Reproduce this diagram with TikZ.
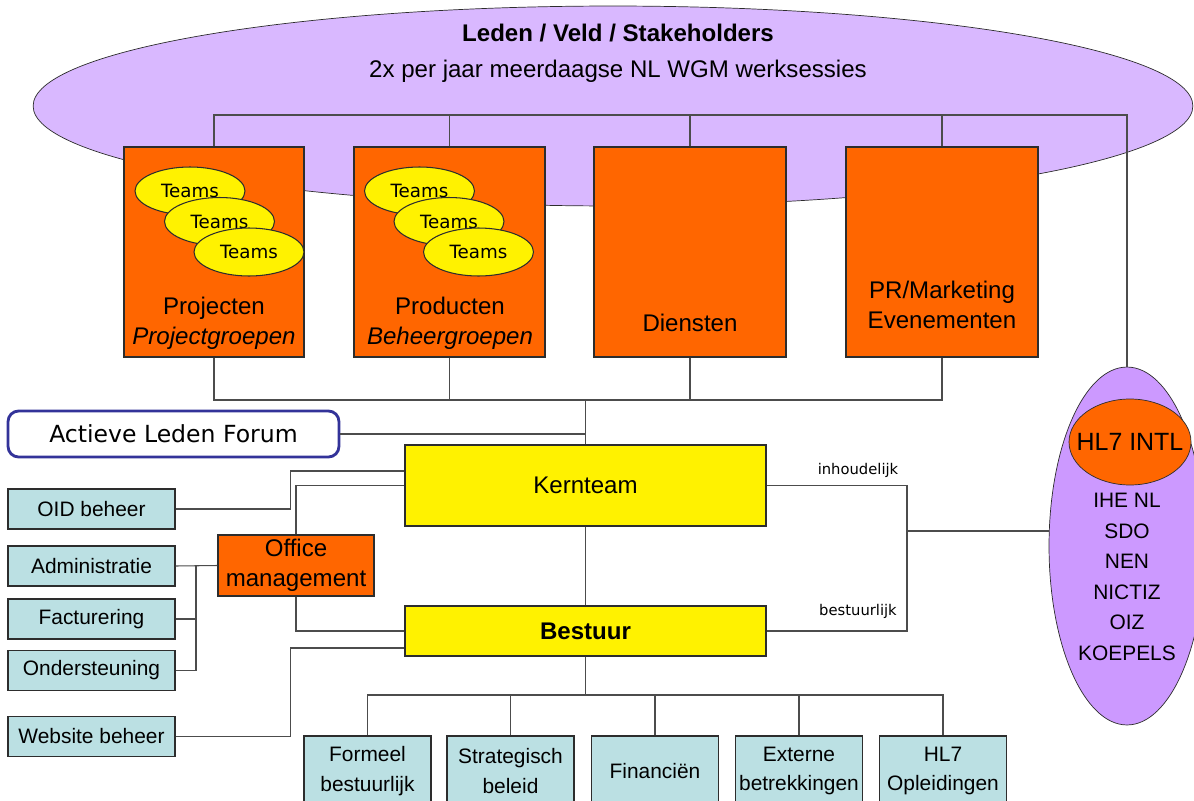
\documentclass[tikz,border=0pt]{standalone}
\usepackage{fontspec}
\setmainfont{Liberation Sans}
\newfontfamily\forumfont{DejaVu Sans}
\usetikzlibrary{shapes.geometric, positioning}
\definecolor{lavender}{RGB}{217,184,255}
\definecolor{hlpurple}{RGB}{204,153,255}
\definecolor{hlorange}{RGB}{255,102,0}
\definecolor{paleblue}{RGB}{187,224,227}
\definecolor{forumblue}{RGB}{51,51,153}
\definecolor{edge}{RGB}{45,45,45}

\tikzset{
  orangebox/.style={draw=edge, line width=0.8pt, fill=hlorange, inner sep=0pt},
  yellowbox/.style={draw=edge, line width=0.8pt, fill=yellow, minimum width=7.22cm},
  bluebox/.style={draw=edge, line width=0.8pt, fill=paleblue, align=center, inner sep=0pt, font=\fontsize{11.9}{17}\selectfont},
  teams/.style={ellipse, draw=edge, fill=yellow, line width=0.6pt, minimum width=2.2cm, minimum height=0.96cm, inner sep=0pt, font=\forumfont\fontsize{10.4}{12}\selectfont},
  conn/.style={draw=edge!85, line width=0.6pt},
  boxtext/.style={align=center, font=\fontsize{13.7}{17}\selectfont},
  smalllbl/.style={font=\forumfont\fontsize{8.4}{10}\selectfont}
}

\begin{document}
\begin{tikzpicture}[x=0.02cm, y=-0.02cm]
\useasboundingbox (0,0) rectangle (1194,801);

% leden / veld
\node[ellipse, draw=edge, fill=lavender, minimum width=23.2cm, minimum height=4cm] (leden) at (613,106) {};
\node[boxtext, font=\fontsize{13.7}{20.5}\selectfont] (ledentxt) at (618,53) {\textbf{Leden / Veld / Stakeholders}\\2x per jaar meerdaagse NL WGM werksessies};

% werkvelden
\node[orangebox, minimum width=3.6cm, minimum height=4.2cm] (proj) at (214,252) {};
\node[orangebox, minimum width=3.82cm, minimum height=4.2cm] (prod) at (449.5,252) {};
\node[orangebox, minimum width=3.84cm, minimum height=4.2cm] (dien) at (690,252) {};
\node[orangebox, minimum width=3.84cm, minimum height=4.2cm] (pr) at (942,252) {};
\foreach \bx/\nm in {190/pt, 419.5/bt}
  \foreach \i in {0,1,2}
    \node[teams] (\nm\i) at (\bx+29.5*\i, 191+30.5*\i) {Teams};
\node[boxtext] (projtxt) at (214,323) {Projecten\\\textit{Projectgroepen}};
\node[boxtext] (prodtxt) at (450,323) {Producten\\\textit{Beheergroepen}};
\node[boxtext] (dientxt) at (690,323) {Diensten};
\node[boxtext] (prtxt) at (942,305) {PR/Marketing\\Evenementen};

% kern
\node[draw=forumblue, line width=1.6pt, rounded corners=6pt, fill=white, minimum width=6.62cm, minimum height=0.92cm, font=\forumfont\fontsize{13.4}{16}\selectfont] (forum) at (173.5,434) {Actieve Leden Forum};
\node[yellowbox, minimum height=1.62cm, font=\fontsize{13.7}{17}\selectfont] (kern) at (585.5,485.5) {Kernteam};
\node[yellowbox, minimum height=1cm, font=\bfseries\fontsize{13.7}{17}\selectfont] (best) at (585.5,631) {Bestuur};
\node[orangebox, align=center, minimum width=3.12cm, minimum height=1.22cm, font=\fontsize{13.7}{17}\selectfont] (office) at (296,565.5) {Office\\management};

% ondersteuning links
\foreach \nm/\yy/\txt in {oid/509/OID beheer, admin/566/Administratie, fact/619/Facturering, ond/670.5/Ondersteuning, web/736.5/Website beheer}
  \node[bluebox, minimum width=3.34cm, minimum height=0.8cm] (\nm) at (91.5,\yy) {\txt};

% portefeuilles bestuur
\foreach \nm/\xx/\txt in {form/367.5/{Formeel\\bestuurlijk}, strat/510.5/{Strategisch\\beleid}, fin/655/{Financi\"en}, ext/799/{Externe\\betrekkingen}, opl/943/{HL7\\Opleidingen}}
  \node[bluebox, minimum width=2.54cm, minimum height=1.4cm] (\nm) at (\xx,771) {\txt};

% internationaal
\node[ellipse, draw=edge, fill=hlpurple, minimum width=3.12cm, minimum height=7.16cm] (hl7) at (1127,546) {};
\node[ellipse, draw=edge, fill=hlorange, minimum width=2.44cm, minimum height=1.72cm, inner xsep=-0.25cm, inner ysep=0pt, font=\fontsize{14.2}{17}\selectfont] (intl) at (1130,442) {HL7 INTL};
\node[align=center, font=\fontsize{11.9}{17.4}\selectfont] (orgs) at (1127,577) {IHE NL\\SDO\\NEN\\NICTIZ\\OIZ\\KOEPELS};

% lijnen
\coordinate (bustop) at (600,115);
\coordinate (busmid) at (585.5,400);
\coordinate (busbot) at (585.5,695);
\coordinate (lbus) at (196,566);
\coordinate (rbus) at (907,531);

\draw[conn] (proj.north) |- (bustop) -| (hl7.north);
\foreach \bx in {prod, dien, pr}
  \draw[conn] (\bx.north) -- (\bx.north |- bustop);
\draw[conn] (proj.south) |- (busmid) -| (pr.south);
\foreach \bx in {prod, dien}
  \draw[conn] (\bx.south) -- (\bx.south |- busmid);
\draw[conn] (busmid) -- (kern.north);
\draw[conn] (forum.east) -- (forum.east -| busmid);
\draw[conn] (kern.south) -- (best.north);
\draw[conn] (best.south) -- (busbot);
\draw[conn] (form.north) |- (busbot) -| (opl.north);
\foreach \bx in {strat, fin, ext}
  \draw[conn] (\bx.north) -- (\bx.north |- busbot);

\draw[conn] (oid.east) -- ++(115,0) |- ([yshift=0.29cm]kern.west);
\draw[conn] (office.north) |- (kern.west);
\draw[conn] (office.south) |- (best.west);
\draw[conn] (web.east) -- ++(115,0) |- ([yshift=-0.34cm]best.west);
\draw[conn] (admin.east) -- (office.west);
\draw[conn] (ond.east) -| (lbus);
\draw[conn] (fact.east) -- (fact.east -| lbus);

\draw[conn] (kern.east) -| (rbus) |- (best.east);
\draw[conn] (rbus) -- (rbus -| hl7.west);
\node[smalllbl] (inh) at (858,470) {inhoudelijk};
\node[smalllbl] (bst) at (858,611) {bestuurlijk};
\end{tikzpicture}
\end{document}
